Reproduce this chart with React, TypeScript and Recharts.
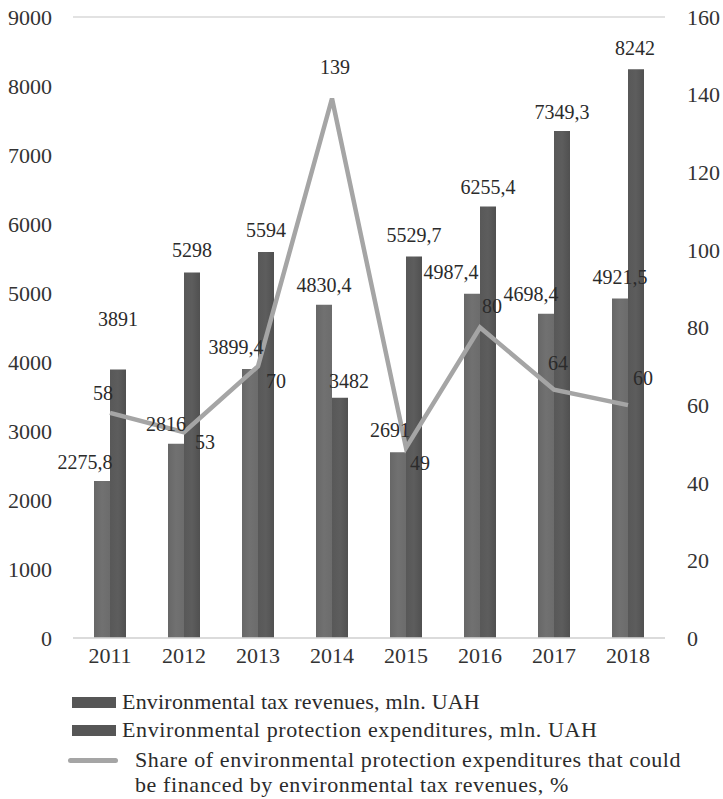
import React from "react";
import { ComposedChart, Bar, Line, XAxis, YAxis, CartesianGrid, LabelList } from "recharts";

const years = ["2011", "2012", "2013", "2014", "2015", "2016", "2017", "2018"];
const taxRevenues = [2275.8, 2816, 3899.4, 4830.4, 2691, 4987.4, 4698.4, 4921.5];
const protectionExpenditures = [3891, 5298, 5594, 3482, 5529.7, 6255.4, 7349.3, 8242];
const financedShare = [58, 53, 70, 139, 49, 80, 64, 60];
const leftTicks = [0, 1000, 2000, 3000, 4000, 5000, 6000, 7000, 8000, 9000];
const rightTicks = [0, 20, 40, 60, 80, 100, 120, 140, 160];

// label nudges (px) relative to bar top / line point
const taxNudge = [[-17, -19], [-10, -20], [-14, -22], [0, -20], [-8, -22], [-21, -22], [-15, -20], [0, -21]];
const expNudge = [[0, -51], [0, -22], [0, -22], [9, -17], [0, -21], [0, -19], [0, -19], [-1, -21]];
const shareNudge = [[-7, -20], [21, 10], [18, 15], [3, -32], [14, 15], [12, -22], [4, -27], [15, -27]];

const data = years.map((year, i) => ({
  year,
  tax: taxRevenues[i],
  exp: protectionExpenditures[i],
  share: financedShare[i],
}));

const FONT = "'Liberation Serif', 'Times New Roman', serif";
const TEXT = "#2b2b2b";

const fmt = (v: number) => String(v).replace(".", ",");

const barLabel = (nudge: number[][]) => (props: any) => {
  const { x, y, width, value, index } = props;
  const [dx, dy] = nudge[index] || [0, -20];
  return (
    <text
      x={Number(x) + Number(width) / 2 + dx}
      y={Number(y) + dy}
      textAnchor="middle"
      dominantBaseline="central"
      fontSize={20}
      fontFamily={FONT}
      fill={TEXT}
    >
      {fmt(value)}
    </text>
  );
};

const lineLabel = (props: any) => {
  const { x, y, value, index } = props;
  const [dx, dy] = shareNudge[index] || [0, -20];
  return (
    <text
      x={Number(x) + dx}
      y={Number(y) + dy}
      textAnchor="middle"
      dominantBaseline="central"
      fontSize={20}
      fontFamily={FONT}
      fill={TEXT}
    >
      {fmt(value)}
    </text>
  );
};

const tickStyle = { fontSize: 22, fontFamily: FONT, fill: "#333" };

const swatch = { display: "inline-block", width: 44, height: 11, background: "#565656", marginRight: 6 };

export default function App() {
  return (
    <div style={{ position: "absolute", left: 0, top: 0, width: 723, height: 799, background: "#fff", fontFamily: FONT }}>
      <ComposedChart
        width={723}
        height={680}
        data={data}
        margin={{ top: 17, right: 0, bottom: 0, left: 0 }}
        barGap={0}
        barSize={16}
      >
        <defs>
          <linearGradient id="taxFill" x1="0" y1="0" x2="1" y2="0">
            <stop offset="0%" stopColor="#676767" />
            <stop offset="50%" stopColor="#717171" />
            <stop offset="100%" stopColor="#6c6c6c" />
          </linearGradient>
          <linearGradient id="expFill" x1="0" y1="0" x2="1" y2="0">
            <stop offset="0%" stopColor="#585858" />
            <stop offset="50%" stopColor="#5d5d5d" />
            <stop offset="100%" stopColor="#505050" />
          </linearGradient>
        </defs>
        <CartesianGrid vertical={false} stroke="#d9d9d9" strokeWidth={1.5} />
        <XAxis
          dataKey="year"
          height={42}
          axisLine={{ stroke: "#d9d9d9", strokeWidth: 1.5 }}
          tickLine={false}
          tickSize={0}
          tickMargin={9}
          tick={tickStyle}
          interval={0}
        />
        <YAxis
          yAxisId="left"
          width={73}
          domain={[0, 9000]}
          ticks={leftTicks}
          axisLine={false}
          tickLine={false}
          tickSize={0}
          tickMargin={21}
          tick={tickStyle}
        />
        <YAxis
          yAxisId="right"
          orientation="right"
          width={58}
          domain={[0, 160]}
          ticks={rightTicks}
          axisLine={false}
          tickLine={false}
          tickSize={0}
          tickMargin={22}
          tick={tickStyle}
        />
        <Bar yAxisId="left" dataKey="tax" fill="url(#taxFill)" isAnimationActive={false}>
          <LabelList dataKey="tax" content={barLabel(taxNudge)} />
        </Bar>
        <Bar yAxisId="left" dataKey="exp" fill="url(#expFill)" isAnimationActive={false}>
          <LabelList dataKey="exp" content={barLabel(expNudge)} />
        </Bar>
        <Line
          yAxisId="right"
          dataKey="share"
          type="linear"
          stroke="#a5a5a5"
          strokeWidth={4.5}
          dot={false}
          activeDot={false}
          isAnimationActive={false}
        >
          <LabelList dataKey="share" content={lineLabel} />
        </Line>
      </ComposedChart>

      <div style={{ position: "absolute", left: 72, top: 688, fontSize: 22, color: TEXT, lineHeight: "28px", whiteSpace: "nowrap" }}>
        <div style={{ display: "flex", alignItems: "center", height: 28, letterSpacing: 0.2 }}>
          <span style={swatch} />
          <span>Environmental tax revenues, mln. UAH</span>
        </div>
        <div style={{ display: "flex", alignItems: "center", height: 28, letterSpacing: 0.6 }}>
          <span style={swatch} />
          <span>Environmental protection expenditures, mln. UAH</span>
        </div>
        <div style={{ display: "flex", alignItems: "flex-start", marginTop: 3, letterSpacing: 0.6 }}>
          <span style={{ display: "inline-block", width: 50, height: 5, borderRadius: 3, background: "#a5a5a5", marginLeft: -4, marginTop: 11, marginRight: 17 }} />
          <span style={{ lineHeight: "25px" }}>
            Share of environmental protection expenditures that could
            <br />
            be financed by environmental tax revenues, %
          </span>
        </div>
      </div>
    </div>
  );
}
